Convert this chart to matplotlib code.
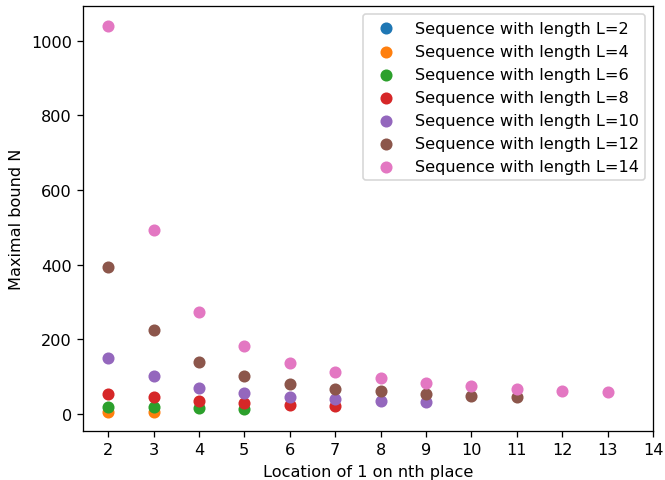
import numpy as np
import matplotlib
matplotlib.use("Agg")
import matplotlib.pyplot as plt

# maximal bound N per location of the 1, for each sequence length L
lengths = [2, 4, 6, 8, 10, 12, 14]
bounds = {
    2: [],
    4: [6, 6],
    6: [18, 18, 15, 12],
    8: [54, 44, 34, 28, 24, 21],
    10: [149, 101, 69, 55, 46, 39, 35, 31],
    12: [394, 225, 138, 101, 80, 68, 60, 52, 47, 44],
    14: [1041, 492, 272, 183, 136, 112, 96, 84, 74, 67, 62, 59],
}

dpi = 116
fig = plt.figure(figsize=(665 / dpi, 481 / dpi), dpi=dpi)
for L in lengths:
    N = bounds[L]
    loc = np.arange(2, 2 + len(N))
    plt.scatter(loc, N, s=42, label="Sequence with length L=" + str(L))

plt.xticks(np.arange(2, 15))
plt.xlabel("Location of 1 on nth place")
plt.ylabel("Maximal bound N")
plt.legend(loc="upper right")
plt.subplots_adjust(left=0.125, right=0.982, bottom=0.102, top=0.985)
plt.savefig("out.png", dpi=dpi)
